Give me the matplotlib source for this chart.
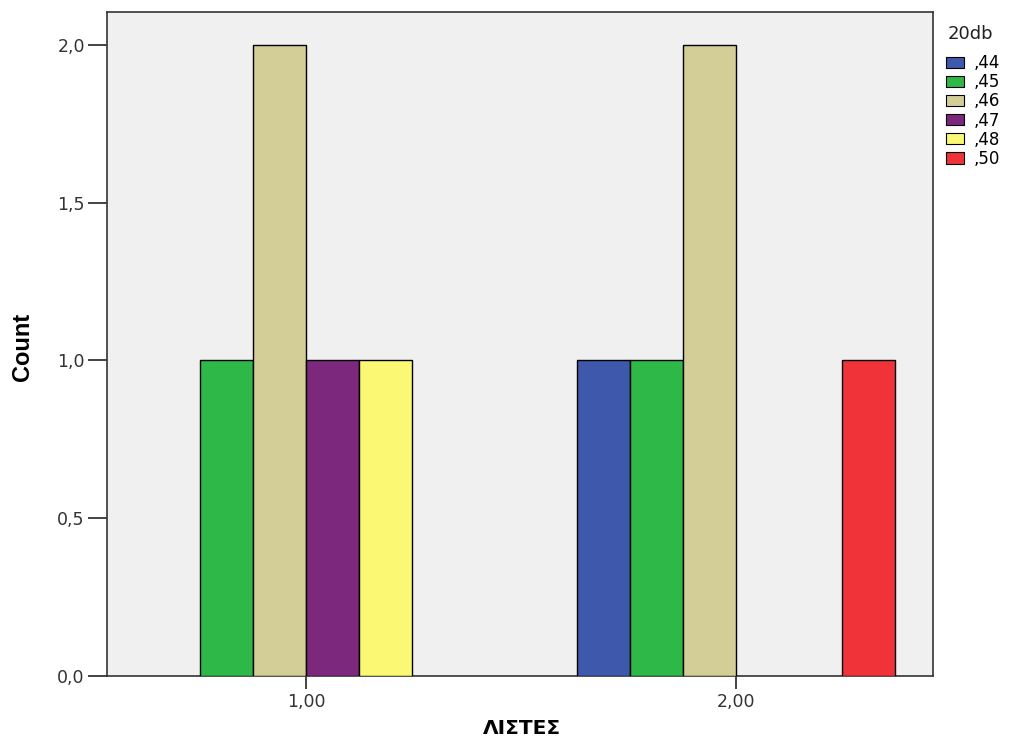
import matplotlib
matplotlib.use("Agg")
import matplotlib.pyplot as plt
from matplotlib.patches import Patch
from matplotlib.ticker import FuncFormatter
import numpy as np

# Data
categories = [1.0, 2.0]
category_labels = ["1,00", "2,00"]
series_labels = [",44", ",45", ",46", ",47", ",48", ",50"]
counts_44 = [0, 1]
counts_45 = [1, 1]
counts_46 = [2, 2]
counts_47 = [1, 0]
counts_48 = [1, 0]
counts_50 = [0, 1]
series_values = [counts_44, counts_45, counts_46, counts_47, counts_48, counts_50]
colors = ["#3E58AC", "#2EB848", "#D3CE97", "#7C287D", "#FBF873", "#EF3338"]
y_ticks = [0.0, 0.5, 1.0, 1.5, 2.0]

plt.rcParams['font.family'] = ['DejaVu Sans']

W, H = 1012, 748
fig = plt.figure(figsize=(W / 100, H / 100), dpi=100)
fig.patch.set_facecolor("white")
ax = fig.add_axes([107 / W, (H - 676) / H, (933 - 107) / W, (676 - 12) / H])
ax.set_facecolor("#F0F0F0")

bw = 0.1235
n = len(series_labels)
x = np.array(categories)
for i, (vals, col) in enumerate(zip(series_values, colors)):
    offs = (i - (n - 1) / 2) * bw
    vals = np.array(vals, dtype=float)
    mask = vals > 0
    ax.bar(x[mask] + offs, vals[mask], width=bw, color=col,
           edgecolor="black", linewidth=1.0, zorder=3)

ax.set_xlim(0.536, 2.459)
ax.set_ylim(0, 2.104)
ax.set_xticks(categories)
ax.set_xticklabels(category_labels)
ax.set_yticks(y_ticks)
ax.yaxis.set_major_formatter(FuncFormatter(lambda v, p: f"{v:.1f}".replace(".", ",")))
ax.tick_params(axis="both", direction="out", width=1.2, color="#222222",
               labelsize=12.5, labelcolor="#333333")
ax.tick_params(axis="y", length=14, pad=2)
ax.tick_params(axis="x", length=9, pad=3)
ax.tick_params(top=False, right=False)
for s in ax.spines.values():
    s.set_color("#333333")
    s.set_linewidth(1.2)

ax.set_ylabel("Count", fontsize=17, fontweight="bold",
              family=["Liberation Sans", "DejaVu Sans"])
ax.yaxis.set_label_coords((34 - 107) / 826, 0.495)
ax.set_xlabel("ΛΙΣΤΕΣ", fontsize=14.5, fontweight="bold")
ax.xaxis.set_label_coords((522 - 107) / 826, (676 - 719) / 664)

fig.text(948 / W, 1 - 25 / H, "20db", fontsize=13, color="#222222",
         ha="left", va="top")
handles = [Patch(facecolor=c, edgecolor="black", linewidth=0.8) for c in colors]
leg = fig.legend(handles, series_labels, loc="upper left",
                 bbox_to_anchor=(946 / W, 1 - 54 / H), frameon=False,
                 fontsize=12, handlelength=1.1, handleheight=0.66,
                 handletextpad=0.55, labelspacing=0.07, borderpad=0, borderaxespad=0)

fig.savefig("out.png", dpi=100)
